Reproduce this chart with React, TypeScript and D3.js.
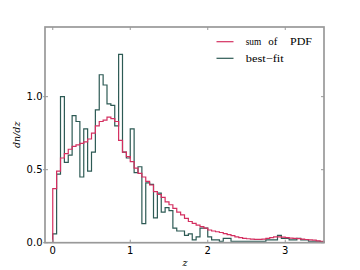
import * as d3 from "d3";

const WIDTH = 360;
const HEIGHT = 270;
const M = { left: 45, right: 36, top: 27, bottom: 27.3 };

const BIN_WIDTH = 0.05;
const X_TICKS = [0, 1, 2, 3];
const Y_TICKS = [0, 0.5, 1.0];

// best-fit histogram (bins of 0.05 from z = 0)
const bestFit = [
  0.06, 0.47, 1.0, 0.55, 0.6, 0.87, 0.83, 0.45, 0.78, 0.49,
  0.62, 0.91, 1.15, 1.08, 0.95, 0.94, 0.8, 1.29, 0.62, 0.58,
  0.78, 0.48, 0.52, 0.13, 0.41, 0.4, 0.17, 0.34, 0.21, 0.24,
  0.22, 0.1, 0.08, 0.08, 0.05, 0.06, 0.02, 0.04, 0.1, 0.1,
  0.04, 0.02, 0.02, 0.01, 0.03, 0.03, 0.01, 0.01, 0.01, 0.01,
  0.01, 0.01, 0.01, 0.01, 0.01, 0.02, 0.02, 0.02, 0.05, 0.03,
  0.03, 0.02, 0.02, 0.03, 0.02, 0.02, 0.01, 0.01, 0.01, 0.005,
];

// sum of PDF, same bins
const sumPdf = [
  0.37, 0.49, 0.58, 0.61, 0.64, 0.66, 0.67, 0.68, 0.69, 0.71,
  0.75, 0.8, 0.83, 0.84, 0.86, 0.85, 0.83, 0.7, 0.62, 0.59,
  0.555, 0.51, 0.475, 0.45, 0.42, 0.395, 0.35, 0.33, 0.31, 0.28,
  0.26, 0.235, 0.21, 0.19, 0.167, 0.145, 0.133, 0.12, 0.11, 0.1,
  0.087, 0.08, 0.075, 0.07, 0.062, 0.055, 0.048, 0.04, 0.035, 0.03,
  0.027, 0.025, 0.023, 0.023, 0.025, 0.03, 0.035, 0.04, 0.04, 0.038,
  0.035, 0.032, 0.03, 0.028, 0.025, 0.022, 0.02, 0.017, 0.013, 0.01,
];

const RED = "#d42f60";
const GREEN = "#2d5a54";
const FRAME = "#999999";

function stepPoints(values: number[]): [number, number][] {
  const pts: [number, number][] = [[0, 0]];
  values.forEach((v, i) => {
    pts.push([i * BIN_WIDTH, v]);
    pts.push([(i + 1) * BIN_WIDTH, v]);
  });
  pts.push([values.length * BIN_WIDTH, 0]);
  return pts;
}

export default function App() {
  const x = d3.scaleLinear().domain([-0.1, 3.5]).range([M.left, WIDTH - M.right]);
  const y = d3.scaleLinear().domain([0, 1.477]).range([HEIGHT - M.bottom, M.top]);
  const line = d3
    .line<[number, number]>()
    .x((d) => x(d[0]))
    .y((d) => y(d[1]));

  const x0 = M.left;
  const x1 = WIDTH - M.right;
  const y0 = HEIGHT - M.bottom;
  const y1 = M.top;

  return (
    <svg
      width={WIDTH}
      height={HEIGHT}
      style={{ position: "absolute", left: 0, top: 0, background: "#fff" }}
    >
      <path d={line(stepPoints(bestFit)) || ""} fill="none" stroke={GREEN} strokeWidth={1.2} />
      <path d={line(stepPoints(sumPdf)) || ""} fill="none" stroke={RED} strokeWidth={1.2} />

      <rect x={x0} y={y1} width={x1 - x0} height={y0 - y1} fill="none" stroke={FRAME} strokeWidth={1.7} />

      {X_TICKS.map((t) => (
        <g key={t}>
          <line x1={x(t)} x2={x(t)} y1={y0} y2={y0 - 3} stroke={FRAME} />
          <line x1={x(t)} x2={x(t)} y1={y1} y2={y1 + 3} stroke={FRAME} />
          <text
            x={x(t)}
            y={y0 + 11}
            textAnchor="middle"
            fontFamily="DejaVu Sans"
            fontSize={10}
            fill="#000"
          >
            {t}
          </text>
        </g>
      ))}
      {Y_TICKS.map((t) => (
        <g key={t}>
          <line x1={x0 - 2} x2={x0 + 3} y1={y(t)} y2={y(t)} stroke={FRAME} />
          <line x1={x1} x2={x1 - 3} y1={y(t)} y2={y(t)} stroke={FRAME} />
          <text
            x={x0 - 2.5}
            y={y(t) + 3.6}
            textAnchor="end"
            fontFamily="DejaVu Sans"
            fontSize={10}
            fill="#000"
          >
            {t.toFixed(1)}
          </text>
        </g>
      ))}

      <text
        transform={`translate(20, ${(y0 + y1) / 2}) rotate(-90)`}
        textAnchor="middle"
        fontFamily="DejaVu Serif"
        fontStyle="italic"
        fontSize={9.5}
      >
        dn/dz
      </text>
      <text
        x={(x0 + x1) / 2 + 0.5}
        y={266}
        textAnchor="middle"
        fontFamily="DejaVu Serif"
        fontStyle="italic"
        fontSize={9.5}
      >
        z
      </text>

      <g fontFamily="Liberation Serif" fontSize={11} fill="#000">
        <line x1={216.5} x2={233.5} y1={41.7} y2={41.7} stroke={RED} strokeWidth={1.2} />
        <text y={45.3}>
          <tspan x={245.7} textLength={15.5} lengthAdjust="spacingAndGlyphs">sum</tspan>
          <tspan x={268.3}>of</tspan>
          <tspan x={290} textLength={22} lengthAdjust="spacingAndGlyphs">PDF</tspan>
        </text>
        <line x1={216.5} x2={233.5} y1={58.3} y2={58.3} stroke={GREEN} strokeWidth={1.2} />
        <text x={245.7} y={61.9} textLength={38} lengthAdjust="spacingAndGlyphs">
          best−fit
        </text>
      </g>
    </svg>
  );
}
